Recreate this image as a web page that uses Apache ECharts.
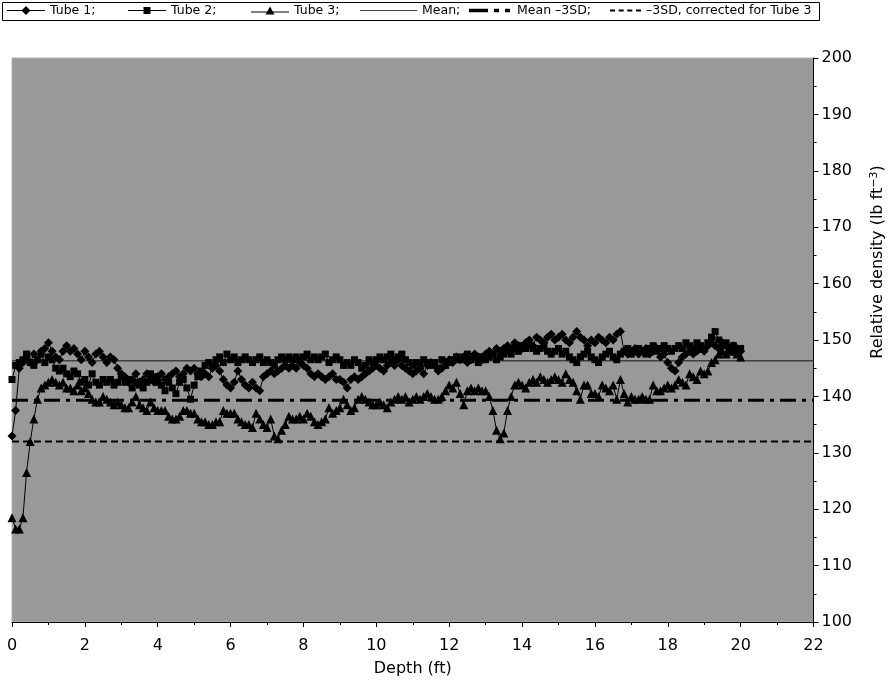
<!DOCTYPE html>
<html>
<head>
<meta charset="utf-8">
<script src="https://cdn.jsdelivr.net/npm/echarts@6/dist/echarts.min.js"></script>
<style>
  html, body { margin: 0; padding: 0; background: #ffffff; }
  #chart { width: 894px; height: 687px; }
</style>
</head>
<body>
<div id="chart"></div>
<script>
// Density logs of three access tubes, sampled every 0.1 ft from 0 to 20 ft
const depthStart = 0;
const depthStep = 0.1;

const tube1 = [
  133, 137.5, 145, 146, 147, 146, 147.5, 146.5, 148, 148.5,
  149.5, 148, 147, 146.5, 148, 149, 148, 148.5, 147.5, 146.5,
  148, 147, 146, 147.5, 148, 147, 146, 147, 146.5, 145,
  144, 143.5, 142.5, 143, 144, 142.5, 143, 144, 143, 142.5,
  143.5, 144, 143, 143.5, 144, 144.5, 143.5, 144, 145, 144.5,
  145, 144, 143.5, 144, 143.5, 145, 145.5, 144.5, 143, 142,
  141.5, 142.5, 144.5, 143, 142, 141.5, 142.5, 141.5, 141, 143.5,
  144, 144.5, 144, 144.5, 145, 145.5, 145, 145.5, 145, 146,
  145.5, 145, 144, 143.5, 144, 143.5, 143, 143.5, 144, 143,
  143, 142.5, 141.5, 143, 143.5, 143, 143.5, 144, 144.5, 145,
  145.5, 145, 144.5, 145.5, 146, 145.5, 146.5, 145.5, 145, 144.5,
  144, 144.5, 145, 144, 145.5, 146, 145.5, 144.5, 145, 146,
  146.5, 146, 147, 146.5, 147, 146, 146.5, 147.5, 147, 146.5,
  147.5, 148, 147.5, 148.5, 148, 148.5, 149, 148.5, 149.5, 149,
  148.5, 149.5, 150, 149, 150.5, 150, 149.5, 150.5, 151, 150,
  150.5, 151, 150, 149.5, 150.5, 151.5, 150.5, 150, 149, 150,
  149.5, 150.5, 150, 149.5, 150.5, 150, 151, 151.5, 148, 147.5,
  148, 148.5, 147.5, 148, 148.5, 147.5, 148, 148.5, 147, 147.5,
  146, 145, 144.5, 146, 147, 147.5, 148, 147.5, 148, 148.5,
  148, 149, 149.5, 149, 148.5, 149.5, 149, 148, 149, 148.5,
  148
];

const tube2 = [
  143, 145.5, 146, 146.5, 147.5, 146, 145.5, 146.5, 147.5, 146,
  147, 146.5, 145, 144.5, 145, 144, 143.5, 144.5, 144, 142.5,
  143, 142, 144, 142.5, 142, 143, 142.5, 143, 142, 142.5,
  143.5, 142.5, 143, 141.5, 142.5, 142, 141.5, 142.5, 144, 143.5,
  142.5, 142, 141, 142.5, 141.5, 140.5, 142.5, 143, 141.5, 139.5,
  142, 143.5, 144.5, 145.5, 146, 145.5, 146.5, 147, 146, 147.5,
  146.5, 147, 146, 146.5, 147, 146.5, 146, 146.5, 147, 146,
  146.5, 146, 145.5, 146.5, 147, 146.5, 147, 146.5, 147, 146.5,
  147, 147.5, 146.5, 147, 146.5, 147, 147.5, 146, 146.5, 147,
  146.5, 145.5, 146, 145.5, 146.5, 146, 145, 145.5, 146.5, 146,
  146.5, 147, 146.5, 147, 147.5, 146.5, 147, 147.5, 146.5, 146,
  145.5, 146, 145.5, 146.5, 146, 145.5, 146, 145, 146.5, 145.5,
  146, 146.5, 147, 146.5, 147, 147.5, 146.5, 147, 146, 147,
  146.5, 147, 147.5, 146.5, 147, 147.5, 148, 147.5, 148.5, 148,
  149, 148.5, 149, 148.5, 148, 148.5, 149, 148, 147.5, 148,
  148.5, 147.5, 148, 147, 146.5, 146, 147, 147.5, 148, 147,
  146.5, 146, 147, 147.5, 148, 147, 146.5, 147.5, 148, 148.5,
  147.5, 148, 148.5, 148, 147.5, 148.5, 149, 148, 148.5, 149,
  148.5, 148, 148.5, 149, 148.5, 149.5, 149, 148.5, 149.5, 149,
  148.5, 149.5, 150.5, 151.5, 150, 149, 149.5, 148.5, 149, 148,
  148.5
];

const tube3 = [
  118.5, 116.5, 116.5, 118.5, 126.5, 132, 136, 139.5, 141.5, 142,
  142.5, 143, 142.5, 142, 142.5, 141.5, 141.5, 141, 142, 141,
  141.5, 140.5, 139.5, 139, 139, 140, 139.5, 139, 138.5, 139,
  138.5, 138, 138, 139, 140, 138.5, 138, 137.5, 139, 138,
  137.5, 137.5, 137.5, 136.5, 136, 136, 136.5, 137.5, 137.5, 137,
  137, 136, 135.5, 135.5, 135, 135, 135.5, 135.5, 137.5, 137,
  137, 137, 136, 135.5, 135, 135, 134.5, 137, 136, 135,
  134.5, 136, 133, 132.5, 134, 135, 136.5, 136, 136, 136.5,
  136, 137, 136.5, 135.5, 135, 135.5, 136, 138, 137, 137.5,
  138, 139.5, 138.5, 137.5, 138, 139.5, 140, 139.5, 139, 138.5,
  138.5, 139, 138.5, 138, 139, 139.5, 140, 139.5, 140, 139,
  139.5, 140, 139.5, 140, 140.5, 140, 139.5, 139.5, 140, 141,
  142, 141.5, 142.5, 140.5, 138.5, 141, 141.5, 141, 141.5, 141,
  141, 140, 137.5, 134, 132.5, 133.5, 137.5, 140, 142, 142.5,
  142, 141.5, 142.5, 143, 142.5, 143.5, 143, 142.5, 143, 143.5,
  143, 142.5, 144, 143, 142.5, 141, 139.5, 142, 142, 140.5,
  140.5, 140, 142, 141.5, 141, 142, 139.5, 143, 140.5, 139,
  140, 139.5, 139.5, 140, 139.5, 139.5, 142, 141, 141, 141.5,
  142, 141.5, 142, 143, 142.5, 142, 144, 143.5, 143, 144.5,
  144, 144.5, 146, 146.5, 147.5, 148, 147.5, 148.5, 148, 147.5,
  147
];

// Reference levels drawn across the full depth range
const levelSpan = [0, 22];
const meanLevel = 146.3;
const meanMinus3SD = 139.3;
const corrected3SD = 132;

const seriesNames = ['Tube 1', 'Tube 2', 'Tube 3', 'Mean', 'Mean \u20133SD', '\u20133SD, corrected for Tube 3'];

const xTicks = { min: 0, max: 22, interval: 2 };
const yTicks = { min: 100, max: 200, interval: 10 };

function pairs(values) {
  return values.map(function (v, i) {
    return [+(depthStart + i * depthStep).toFixed(1), v];
  });
}
function flat(level) {
  return levelSpan.map(function (d) { return [d, level]; });
}

const FONT = '"DejaVu Sans", "Liberation Sans", Arial, sans-serif';

const chart = echarts.init(document.getElementById('chart'), null, { renderer: 'canvas' });

const markerSeries = function (name, values, symbol, size) {
  return {
    name: name,
    type: 'line',
    data: pairs(values),
    symbol: symbol,
    symbolSize: size,
    showAllSymbol: true,
    lineStyle: { color: '#000', width: 1 },
    itemStyle: { color: '#000' },
    z: 5
  };
};

// Legend: one entry per component so each key sits where it should in the framed strip
const legendIcons = [
  { left: 7, width: 38, height: 9, icon: 'path://M0,4h38v1h-38z M19,0l4.5,4.5l-4.5,4.5l-4.5,-4.5z' },
  { left: 128, width: 38, height: 7, icon: 'path://M0,3h38v1h-38z M15.5,0h7v7h-7z' },
  { left: 251, width: 38, height: 8, icon: 'path://M0,5h38v1h-38z M19,0l4.5,8h-9z' },
  { left: 360, width: 57, height: 1.2, icon: 'rect' },
  { left: 469, width: 45, height: 3.5, icon: 'path://M0,0h19v3.5h-19z M25,0h5v3.5h-5z M36,0h5v3.5h-5z' },
  { left: 610, width: 31, height: 2, icon: 'path://M0,0h5v2h-5z M8.7,0h5v2h-5z M17.3,0h5v2h-5z M26,0h5v2h-5z' }
];

const legends = legendIcons.map(function (it, i) {
  return {
    left: it.left,
    top: 4,
    padding: 0,
    itemGap: 0,
    itemWidth: it.width,
    itemHeight: it.height,
    selectedMode: false,
    textStyle: { fontFamily: FONT, fontSize: 12.5, color: '#000' },
    data: [{ name: seriesNames[i], icon: it.icon }],
    formatter: function (name) {
      return name === seriesNames[5] ? name : name + ';';
    }
  };
});

chart.setOption({
  animation: false,
  backgroundColor: '#ffffff',
  textStyle: { fontFamily: FONT },
  graphic: [
    {
      type: 'rect',
      shape: { x: 2.5, y: 2.5, width: 817, height: 18 },
      style: { fill: 'none', stroke: '#000', lineWidth: 1 },
      silent: true
    }
  ],
  legend: legends,
  grid: {
    left: 12,
    right: 76,
    top: 58,
    bottom: 65,
    show: true,
    backgroundColor: '#999999',
    borderColor: '#b4b4b4',
    borderWidth: 1
  },
  xAxis: {
    type: 'value',
    min: xTicks.min,
    max: xTicks.max,
    interval: xTicks.interval,
    name: 'Depth (ft)',
    nameLocation: 'middle',
    nameGap: 39,
    nameTextStyle: { fontFamily: FONT, fontSize: 16, color: '#000' },
    axisLine: { show: true, onZero: false, lineStyle: { color: '#000', width: 1 } },
    axisTick: { show: true, length: 5, lineStyle: { color: '#000' } },
    minorTick: { show: true, splitNumber: 2, length: 3, lineStyle: { color: '#000' } },
    axisLabel: { fontFamily: FONT, fontSize: 16, color: '#000', margin: 16 },
    splitLine: { show: false }
  },
  yAxis: {
    type: 'value',
    position: 'right',
    min: yTicks.min,
    max: yTicks.max,
    interval: yTicks.interval,
    name: '{a|Relative density (lb ft}{s|\u22123}{a|)}',
    nameLocation: 'middle',
    nameRotate: 90,
    nameGap: 55,
    nameTextStyle: {
      padding: [0, 0, 0, 156],
      rich: {
        a: { fontFamily: FONT, fontSize: 16, color: '#000' },
        s: { fontFamily: FONT, fontSize: 11, color: '#000', verticalAlign: 'top', padding: [0, 0, 8, 0] }
      }
    },
    axisLine: { show: true, onZero: false, lineStyle: { color: '#000', width: 1 } },
    axisTick: { show: true, inside: false, length: 5, lineStyle: { color: '#000' } },
    minorTick: { show: true, splitNumber: 2, length: 3, lineStyle: { color: '#000' } },
    axisLabel: { fontFamily: FONT, fontSize: 16, color: '#000', margin: 8 },
    splitLine: { show: false }
  },
  series: [
    markerSeries(seriesNames[0], tube1, 'diamond', 9),
    markerSeries(seriesNames[1], tube2, 'rect', 7),
    markerSeries(seriesNames[2], tube3, 'triangle', 9),
    {
      name: seriesNames[3],
      type: 'line',
      data: flat(meanLevel),
      symbol: 'none',
      lineStyle: { color: '#404040', width: 1.5 },
      itemStyle: { color: '#404040' },
      z: 3
    },
    {
      name: seriesNames[4],
      type: 'line',
      data: flat(meanMinus3SD),
      symbol: 'none',
      lineStyle: { color: '#000', width: 3, type: [16, 6, 4, 6] },
      itemStyle: { color: '#000' },
      z: 3
    },
    {
      name: seriesNames[5],
      type: 'line',
      data: flat(corrected3SD),
      symbol: 'none',
      lineStyle: { color: '#000', width: 2, type: [7, 4] },
      itemStyle: { color: '#000' },
      z: 3
    }
  ]
});
</script>
</body>
</html>
